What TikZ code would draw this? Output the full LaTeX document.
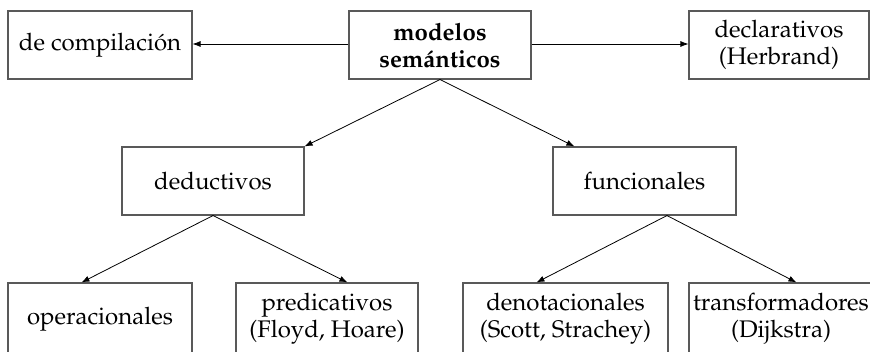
\documentclass[tikz,border=0pt]{standalone}
\IfFileExists{mathpazo.sty}{\usepackage[T1]{fontenc}\usepackage{mathpazo}}{\usepackage{fontspec}\setmainfont{Liberation Serif}}
\usetikzlibrary{arrows.meta,calc}
\tikzset{
  boxnode/.style={draw=black!65, line width=1.1pt, minimum height=68pt, inner sep=0pt, align=center, font=\fontsize{24}{27}\selectfont},
  lowbox/.style={boxnode, minimum height=72pt},
  conn/.style={line width=0.8pt, -{Latex[length=8pt,width=6pt]}}
}
\begin{document}
\begin{tikzpicture}[x=1pt,y=-1pt]
\useasboundingbox (0,0) rectangle (870,351);
\node[boxnode, minimum width=184pt] (comp) at (100,45) {de compilaci\'on};
\node[boxnode, minimum width=182pt] (mod) at (440,45) {\textbf{modelos}\\\textbf{sem\'anticos}};
\node[boxnode, minimum width=180pt] (decl) at (779,45) {declarativos\\(Herbrand)};
\node[boxnode, minimum width=182pt] (ded) at (213,181) {deductivos};
\node[boxnode, minimum width=183pt] (fun) at (644.5,181) {funcionales};
\node[lowbox, minimum width=184pt] (op) at (100,319) {operacionales};
\node[lowbox, minimum width=182pt] (pred) at (327,319) {predicativos\\(Floyd, Hoare)};
\node[lowbox, minimum width=205pt] (deno) at (565.5,319) {denotacionales\\(Scott, Strachey)};
\node[lowbox, minimum width=184pt] (trans) at (781,319) {transformadores\\(Dijkstra)};
\coordinate (mA) at (mod.south);
\coordinate (dA) at (ded.south);
\coordinate (fA) at ($(fun.south)+(22.5,0)$);
\coordinate (tFun) at ($(fun.north west)+(22,0)$);
\coordinate (tOp) at ($(op.north west)+(74,0)$);
\coordinate (tPred) at ($(pred.north west)+(112,0)$);
\coordinate (tDeno) at ($(deno.north west)+(74,0)$);
\coordinate (tTrans) at ($(trans.north west)+(108,0)$);
\draw[conn] (mod.west |- 0,44) -- (comp.east |- 0,44);
\draw[conn] (mod.east |- 0,44) -- (decl.west |- 0,44);
\draw[conn] (mA) -- (ded.north east);
\draw[conn] (mA) -- (tFun);
\draw[conn] (dA) -- (tOp);
\draw[conn] (dA) -- (tPred);
\draw[conn] (fA) -- (tDeno);
\draw[conn] (fA) -- (tTrans);
\end{tikzpicture}
\end{document}
